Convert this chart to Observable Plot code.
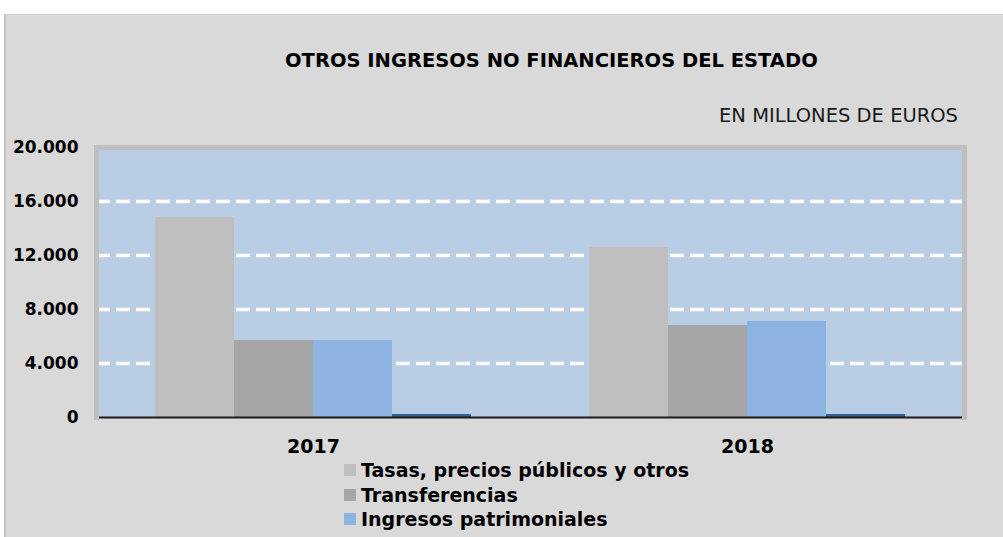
<!DOCTYPE html>
<html>
<head>
<meta charset="utf-8">
<script src="https://cdn.jsdelivr.net/npm/d3@7"></script>
<script src="https://cdn.jsdelivr.net/npm/@observablehq/plot@0.6"></script>
<style>
  html, body { margin: 0; padding: 0; background: #ffffff; }
  #page { position: relative; width: 1003px; height: 537px; overflow: hidden; background: #ffffff; }
  #panel { position: absolute; left: 4px; top: 14px; right: 0; bottom: 0; background: #d9d9d9;
           border-left: 2px solid #c4c4c4; border-top: 1px solid #cfcfcf; }
  #title { position: absolute; left: 285px; top: 49px; white-space: nowrap;
           font-family: "DejaVu Sans", sans-serif; font-weight: bold; font-size: 19.5px; line-height: 24px; color: #000; }
  #subtitle { position: absolute; right: 45px; top: 104px; white-space: nowrap; font-family: "DejaVu Sans", sans-serif;
              font-size: 19.5px; line-height: 24px; color: #1a1a1a; }
  #chart { position: absolute; left: 0; top: 130px; }
  #legend { position: absolute; left: 344px; top: 458px; font-family: "DejaVu Sans", sans-serif;
            font-weight: bold; font-size: 19px; color: #000; }
  .item { display: flex; align-items: center; height: 24.5px; white-space: nowrap; }
  .sw { width: 12px; height: 12px; margin-right: 5px; flex: none; }
</style>
</head>
<body>
<div id="page">
  <div id="panel"></div>
  <div id="title"></div>
  <div id="subtitle"></div>
  <div id="chart"></div>
  <div id="legend"></div>
</div>
<script>
// ---- data ----
const titleText = "OTROS INGRESOS NO FINANCIEROS DEL ESTADO";
const subtitleText = "EN MILLONES DE EUROS";
const years = ["2017", "2018"];
const series = ["Tasas, precios públicos y otros", "Transferencias", "Ingresos patrimoniales", "Enajenación de inversiones reales"];
const values2017 = [14800, 5700, 5700, 200];
const values2018 = [12570, 6840, 7130, 200];
const seriesColors = ["#bfbfbf", "#a6a6a6", "#8db3e2", "#376092"];
const yTicks = [0, 4000, 8000, 12000, 16000, 20000];
const gridTicks = [4000, 8000, 12000, 16000];
const legendSeries = series.slice(0, 3);

// ---- build table ----
const valuesByYear = { "2017": values2017, "2018": values2018 };
const rows = [];
for (const yr of years) {
  series.forEach((s, i) => rows.push({ year: yr, series: s, value: valuesByYear[yr][i] }));
}

const fmt = d3.formatLocale({ decimal: ",", thousands: ".", grouping: [3], currency: ["", "€"] }).format(",d");

document.getElementById("title").textContent = titleText;
document.getElementById("subtitle").textContent = subtitleText;

const chart = Plot.plot({
  width: 1003,
  height: 330,
  marginLeft: 96,
  marginRight: 39,
  marginTop: 17,
  marginBottom: 43,
  style: { background: "transparent", fontFamily: "DejaVu Sans, sans-serif", color: "#000" },
  fx: { domain: years, padding: 0, label: null },
  x: { domain: series, paddingInner: 0, paddingOuter: 0.73, axis: null },
  y: { domain: [0, 20000], label: null },
  color: { domain: series, range: seriesColors },
  marks: [
    Plot.frame({ fill: "#b9cde5", shapeRendering: "crispEdges" }),
    Plot.ruleY(gridTicks, { stroke: "#ffffff", strokeWidth: 3.5, strokeDasharray: "14,6" }),
    Plot.barY(rows, { fx: "year", x: "series", y: "value", fill: "series", shapeRendering: "crispEdges" }),
    Plot.ruleY([0], { stroke: "#1a1a1a", strokeWidth: 2 }),
    Plot.frame({ anchor: "top", stroke: "#bfbfbf", strokeWidth: 5 }),
    Plot.frame({ anchor: "left", facetAnchor: "left", stroke: "#bfbfbf", strokeWidth: 5 }),
    Plot.frame({ anchor: "right", facetAnchor: "right", stroke: "#bfbfbf", strokeWidth: 5 }),
    Plot.axisY(yTicks, { tickFormat: fmt, tickSize: 0, tickPadding: 18, fontSize: 17, fontWeight: "bold", label: null }),
    Plot.axisFx({ anchor: "bottom", tickSize: 0, tickPadding: 22, fontSize: 19, fontWeight: "bold", label: null })
  ]
});
document.getElementById("chart").appendChild(chart);

// ---- legend ----
const legend = document.getElementById("legend");
legendSeries.forEach((s) => {
  const i = series.indexOf(s);
  const row = document.createElement("div");
  row.className = "item";
  const sw = document.createElement("span");
  sw.className = "sw";
  sw.style.background = seriesColors[i];
  const tx = document.createElement("span");
  tx.textContent = s;
  row.appendChild(sw);
  row.appendChild(tx);
  legend.appendChild(row);
});
</script>
</body>
</html>
